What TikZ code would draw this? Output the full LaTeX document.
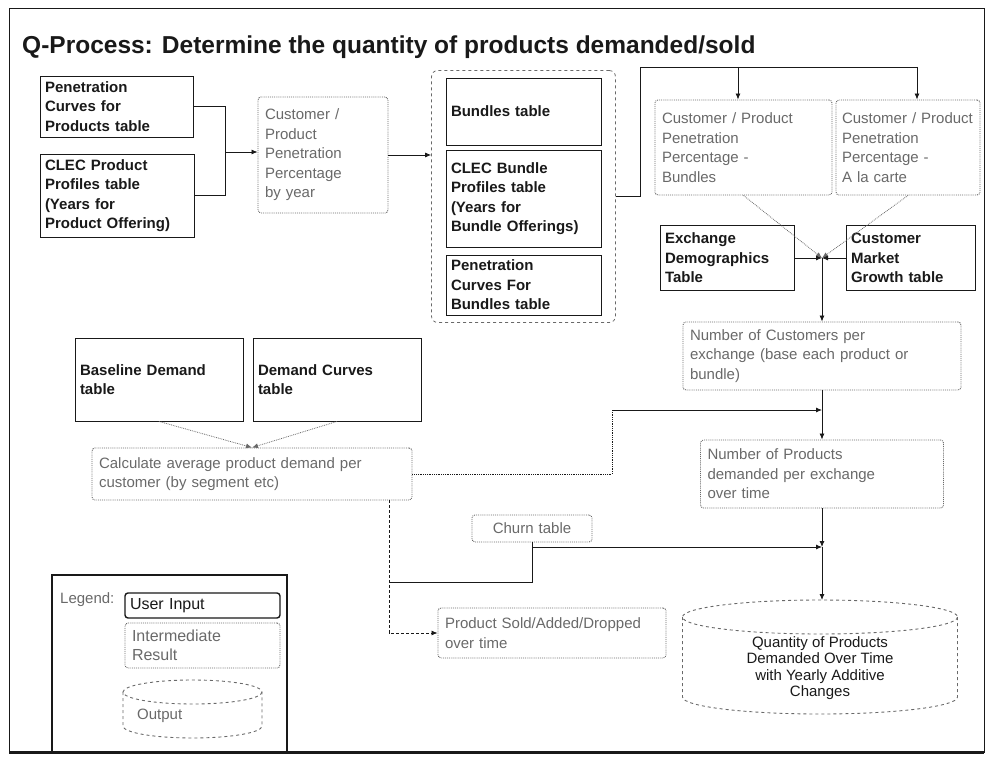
\documentclass[tikz,border=0pt]{standalone}
\usepackage{fontspec}
\setmainfont{Liberation Sans}
\usetikzlibrary{positioning, arrows.meta, fit}
\definecolor{inkcol}{RGB}{25,25,25}
\definecolor{midcol}{RGB}{105,105,105}

\begin{document}
\begin{tikzpicture}[x=1pt, y=-1pt,
    inbox/.style={draw=inkcol, line width=0.9pt, font=\fontsize{15pt}{19.5pt}\selectfont\bfseries, text=inkcol, align=left, inner sep=5pt},
    midbox/.style={draw=midcol, densely dotted, line width=0.9pt, rounded corners=3pt, font=\fontsize{15pt}{19.5pt}\selectfont, text=midcol, align=left, inner sep=5pt},
    drumline/.style={draw=midcol, dashed, line width=0.9pt},
    drumtext/.style={font=\fontsize{15pt}{16.5pt}\selectfont, text=inkcol, align=center},
    link/.style={line width=0.8pt, draw=inkcol},
    arr/.style={-{Latex[length=6pt, width=5pt]}, line width=0.8pt, draw=inkcol},
    dotarr/.style={-{Latex[length=6pt, width=5pt]}, densely dotted, line width=0.8pt, draw=midcol},
]
    \useasboundingbox (0,0) rectangle (991,757);
    \draw[line width=0.8pt, inkcol] (9,8) rectangle (984,752);
    \draw[line width=3pt, inkcol] (9,752) -- (984,752);
    \node[anchor=west, font=\fontsize{24.5pt}{28pt}\selectfont\bfseries, text=inkcol, inner sep=0pt] (title) at (22,47) {Q-Process: Determine the quantity of products demanded/sold};

    % product inputs
    \node[inbox, minimum width=153pt, minimum height=61pt, text width=143pt] (penprod) at (116.5,106.5) {Penetration\\Curves for\\Products table};
    \node[inbox, minimum width=154pt, minimum height=83pt, text width=144pt] (clecprod) at (117,195.5) {CLEC Product\\Profiles table\\(Years for\\Product Offering)};
    \node[midbox, minimum width=130pt, minimum height=116pt, text width=116pt] (custpen) at (323,155) {Customer /\\Product\\Penetration\\Percentage\\by year};

    % bundle inputs
    \node[inbox, minimum width=155pt, minimum height=67pt, text width=145pt] (bund) at (523.5,111.5) {Bundles table};
    \node[inbox, minimum width=155pt, minimum height=97pt, text width=145pt] (bprof) at (523.5,198.5) {CLEC Bundle\\Profiles table\\(Years for\\Bundle Offerings)};
    \node[inbox, minimum width=155pt, minimum height=60pt, text width=145pt] (bpen) at (523.5,285) {Penetration\\Curves For\\Bundles table};
    \node[draw=midcol, dashed, line width=0.8pt, rounded corners=6pt, fit=(bund)(bprof)(bpen), inner xsep=14pt, inner ysep=7pt] (bgrp) {};

    % penetration by offering
    \node[midbox, minimum width=177pt, minimum height=95pt, text width=163pt] (cpbund) at (743.5,147.5) {Customer / Product\\Penetration\\Percentage -\\Bundles};
    \node[midbox, minimum width=144pt, minimum height=95pt, text width=132pt] (cpalc) at (908,147.5) {Customer / Product\\Penetration\\Percentage -\\A la carte};
    \node[inbox, minimum width=134pt, minimum height=65pt, text width=124pt] (exch) at (727,258) {Exchange\\Demographics\\Table};
    \node[inbox, minimum width=129pt, minimum height=65pt, text width=119pt] (cmg) at (910.5,258) {Customer\\Market\\Growth table};
    \coordinate (jn1) at (822,258);

    \node[midbox, minimum width=278pt, minimum height=68pt, text width=264pt] (numcust) at (822,356) {Number of Customers per\\exchange (base each product or\\bundle)};
    \coordinate (jn2) at (822,410);
    \node[midbox, minimum width=243pt, minimum height=68pt, text width=229pt] (numprod) at (822,474) {Number of Products\\demanded per exchange\\over time};
    \coordinate (jn3) at (822,547);

    % demand per customer
    \node[inbox, minimum width=168pt, minimum height=83pt, text width=158pt] (base) at (159,379.5) {Baseline Demand\\table};
    \node[inbox, minimum width=168pt, minimum height=83pt, text width=158pt] (dcurve) at (337,379.5) {Demand Curves\\table};
    \node[midbox, minimum width=320pt, minimum height=52pt, text width=306pt] (calcdem) at (252,474) {Calculate average product demand per\\customer (by segment etc)};
    \coordinate (lpath) at (612,410);

    % churn and output
    \node[midbox, minimum width=120pt, minimum height=27pt, text width=106pt, align=center] (churn) at (532,528.5) {Churn table};
    \node[midbox, minimum width=228pt, minimum height=50pt, text width=214pt] (prodsold) at (552,633) {Product Sold/Added/Dropped\\over time};
    \coordinate (ljoin) at (389,582);
    \draw[drumline] (820,617) ellipse [x radius=137.5, y radius=17];
    \draw[drumline] (682.5,617) -- (682.5,697) arc[start angle=180, end angle=0, x radius=137.5, y radius=17] -- (957.5,617);
    \coordinate (qtytop) at (822,600);
    \node[drumtext] (qtytext) at (820,668) {Quantity of Products\\Demanded Over Time\\with Yearly Additive\\Changes};

    % legend
    \node[draw=inkcol, line width=2pt, minimum width=235pt, minimum height=177pt] (legend) at (169.5,663.5) {};
    \node[anchor=west, font=\fontsize{15pt}{17pt}\selectfont, text=midcol, inner sep=0pt] (legtitle) at (60,600) {Legend:};
    \node[draw=inkcol, line width=1.4pt, rounded corners=3pt, minimum width=155pt, minimum height=25pt, text width=145pt, inner sep=5pt, align=left, font=\fontsize{16pt}{18pt}\selectfont, text=inkcol] (leguser) at (202.5,605.5) {User Input};
    \node[midbox, minimum width=155pt, minimum height=45pt, text width=141pt, font=\fontsize{16pt}{19pt}\selectfont] (legmid) at (202.5,645.5) {Intermediate\\Result};
    \draw[drumline] (192.5,692) ellipse [x radius=69.5, y radius=12];
    \draw[drumline] (123,692) -- (123,726) arc[start angle=180, end angle=0, x radius=69.5, y radius=12] -- (262,692);
    \node[anchor=west, font=\fontsize{15pt}{17pt}\selectfont, text=midcol, inner sep=0pt] (legouttext) at (137,716) {Output};

    % connectors
    \coordinate (busL) at (225,152);
    \draw[link] (penprod.east) -| (busL);
    \draw[link] (clecprod.east) -| (busL);
    \draw[arr] (busL) -- (custpen.west |- busL);
    \draw[arr] (custpen.east) -- (bgrp.west |- custpen.east);
    \coordinate (upL) at (640,67);
    \coordinate (upM) at (738,67);
    \coordinate (upR) at (917,67);
    \draw[link] (bgrp.east) -| (upL) -- (upR);
    \draw[arr] (upM) -- (upM |- cpbund.north);
    \draw[arr] (upR) -- (upR |- cpalc.north);
    \draw[dotarr] (cpbund.south) -- (jn1);
    \draw[dotarr] (cpalc.south) -- (jn1);
    \draw[arr] (exch.east) -- (jn1);
    \draw[arr] (cmg.west) -- (jn1);
    \draw[arr] (jn1) -- (numcust.north);
    \draw[link] (numcust.south) -- (jn2);
    \draw[dotarr] (base.south) -- (calcdem.north);
    \draw[dotarr] (dcurve.south) -- (calcdem.north);
    \draw[link, densely dotted] (calcdem.east) -| (lpath);
    \draw[arr] (lpath) -- (jn2);
    \draw[arr] (jn2) -- (numprod.north);
    \draw[arr] (numprod.south) -- (jn3);
    \draw[arr] (churn.south) |- (jn3);
    \draw[arr] (jn3) -- (qtytop);
    \draw[link] (churn.south) |- (ljoin);
    \draw[arr, densely dashed] (calcdem.south -| ljoin) |- (prodsold.west);
\end{tikzpicture}
\end{document}
